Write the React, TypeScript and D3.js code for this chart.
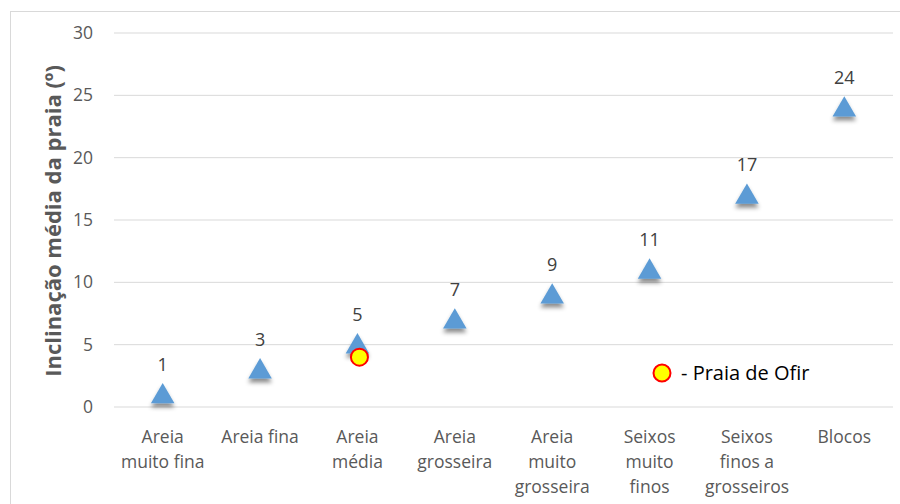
import React from "react";
import * as d3 from "d3";

const categories: string[][] = [
  ["Areia", "muito fina"],
  ["Areia fina"],
  ["Areia", "média"],
  ["Areia", "grosseira"],
  ["Areia", "muito", "grosseira"],
  ["Seixos", "muito", "finos"],
  ["Seixos", "finos a", "grosseiros"],
  ["Blocos"],
];
const values: number[] = [1, 3, 5, 7, 9, 11, 17, 24];
const yTicks: number[] = [0, 5, 10, 15, 20, 25, 30];
const ofirCategoryIndex = 2;
const ofirValue = 4;
const yTitle = "Inclinação média da praia (º)";
const legendLabel = "- Praia de Ofir";

const W = 900;
const H = 504;
const FONT = "'Open Sans', 'Noto Sans', sans-serif";

export default function App() {
  const left = 114;
  const right = 893;
  const top = 33;
  const bottom = 407;
  const x = d3
    .scaleBand<number>()
    .domain(d3.range(categories.length))
    .range([left, right]);
  const y = d3.scaleLinear().domain([0, 30]).range([bottom, top]);
  const tri = d3.symbol().type(d3.symbolTriangle).size(240)();
  const cx = (i: number) => (x(i) as number) + x.bandwidth() / 2;

  return (
    <svg
      width={W}
      height={H}
      style={{ position: "absolute", left: 0, top: 0, background: "#fff" }}
    >
      <defs>
        <filter id="sh" x="-50%" y="-50%" width="200%" height="200%">
          <feDropShadow dx="0" dy="4" stdDeviation="2" floodColor="#000" floodOpacity="0.45" />
        </filter>
      </defs>
      <rect x={10.5} y={11.5} width={900} height={500} fill="#fff" stroke="#D9D9D9" strokeWidth={1} />
      {yTicks.map((t) => (
        <g key={t}>
          <line x1={left} x2={right} y1={y(t)} y2={y(t)} stroke="#D9D9D9" strokeWidth={1} />
          <text
            x={93}
            y={y(t)}
            dy="0.35em"
            textAnchor="end"
            fontFamily={FONT}
            fontSize={17.5}
            fill="#595959"
          >
            {t}
          </text>
        </g>
      ))}
      <text
        transform={`translate(53,${(top + bottom) / 2 + 1}) rotate(-90)`}
        textAnchor="middle"
        dy="0.35em"
        fontFamily={FONT}
        fontSize={22}
        fontWeight="bold"
        fill="#595959"
      >
        {yTitle}
      </text>
      {categories.map((lines, i) => (
        <text key={i} textAnchor="middle" fontFamily={FONT} fontSize={17.5} fill="#595959">
          {lines.map((l, j) => (
            <tspan key={j} x={cx(i)} y={443 + j * 25}>
              {l}
            </tspan>
          ))}
        </text>
      ))}
      {values.map((v, i) => (
        <g key={i}>
          <path
            d={tri as string}
            transform={`translate(${cx(i)},${y(v) + 2})`}
            fill="#5B9BD5"
            filter="url(#sh)"
          />
          <text
            x={cx(i)}
            y={y(v) - 24}
            textAnchor="middle"
            fontFamily={FONT}
            fontSize={18}
            fill="#404040"
          >
            {v}
          </text>
        </g>
      ))}
      <circle
        cx={cx(ofirCategoryIndex) + 2}
        cy={y(ofirValue)}
        r={8.5}
        fill="#FFFF00"
        stroke="#FF0000"
        strokeWidth={2}
      />
      <circle cx={662} cy={373} r={8.5} fill="#FFFF00" stroke="#FF0000" strokeWidth={2} />
      <text x={681} y={373} dy="0.35em" fontFamily={FONT} fontSize={20} fill="#000">
        {legendLabel}
      </text>
    </svg>
  );
}
